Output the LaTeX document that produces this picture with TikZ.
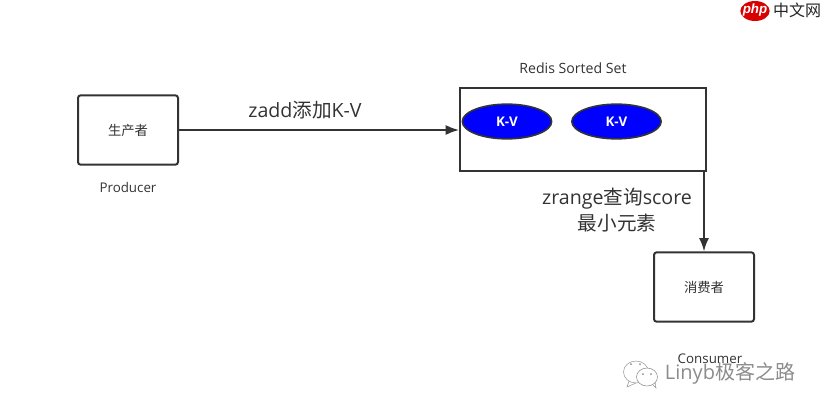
\documentclass[tikz,border=0pt]{standalone}
\usepackage{fontspec}
\usetikzlibrary{shapes.geometric,arrows.meta}
\setmainfont{Open Sans}
\newfontfamily\cjk{Noto Sans CJK SC}
\newfontfamily\arialf{Liberation Sans}
\definecolor{ink}{HTML}{333333}
\begin{document}
\begin{tikzpicture}[x=0.75pt,y=-0.75pt,
  box/.style={draw=ink,line width=1.5pt,rounded corners=2pt,minimum width=75pt,anchor=center,inner sep=0pt},
  setbox/.style={draw=ink,line width=1.3pt,inner sep=0pt},
  kv/.style={ellipse,draw=ink,line width=1.2pt,fill=blue,inner sep=0pt,minimum width=67pt,minimum height=26pt,text=white,font=\fontsize{10}{11}\selectfont\bfseries},
  small/.style={text=ink,font=\fontsize{10}{12}\selectfont,inner sep=0pt},
  big/.style={text=ink,font=\fontsize{14.7}{19}\selectfont,inner sep=0pt,align=center},
  conn/.style={draw=ink,line width=1.2pt,-{Latex[length=10pt,width=7.5pt]}}]
\useasboundingbox (0,0) rectangle (822,411);
\fill[white] (0,0) rectangle (822,411);

\node[box,minimum height=52pt] (prod) at (128,130) {\fontsize{10}{12}\selectfont\color{ink}\cjk 生产者};
\node[small] (prodl) at (128,187) {Producer};
\node[setbox,minimum width=184.5pt,minimum height=62pt] (set) at (583,129.5) {};
\node[small,font=\fontsize{10.6}{12}\selectfont] (setl) at (573,68) {Redis Sorted Set};
\node[kv] (kv1) at (507,121.5) {K-V};
\node[kv] (kv2) at (616.5,121.5) {K-V};
\node[box,minimum height=52pt] (cons) at (704,287) {\fontsize{10}{12}\selectfont\color{ink}\cjk 消费者};
\node[small] (consl) at (710,359) {Consumer};

\coordinate (setin) at (459,130);
\coordinate (setout) at (704,171);
\draw[conn] (prod.east |- setin) -- (setin);
\draw[conn] (setout) -- (cons.north);

\node[big] (l1) at (305,110) {zadd{\cjk 添加}K-V};
\node[big] (l2) at (617,210) {zrange{\cjk 查询}score\\[1pt]{\cjk 最小元素}};

% php logo
\node[ellipse,fill=red!85!black,minimum width=22pt,minimum height=15pt,inner sep=0pt] (php) at (755,11) {};
\node[text=white,inner sep=0pt,font=\arialf\fontsize{10}{10}\selectfont\bfseries\itshape] (phpt) at (755,10) {php};
\node[text=black!85,inner sep=0pt,font=\cjk\fontsize{12}{12}\selectfont] (phpc) at (797,10) {中文网};

% watermark
\node[text=black!45,inner sep=0pt,font=\fontsize{15}{18}\selectfont] (wm) at (730,373) {Linyb{\cjk\fontsize{15}{18}\selectfont 极客之路}};
\draw[black!40,line width=0.4pt,fill=white] (636,372) ellipse (12.5 and 11);
\draw[black!40,line width=0.4pt] (629,381) -- (627,387) -- (636,383);
\draw[black!45,line width=0.4pt,fill=white] (647,377) ellipse (10.5 and 9);
\draw[black!40,line width=0.4pt] (653,385) -- (656,388) -- (655,382);
\fill[black!45] (631,364) circle (1) (640,364) circle (1) (643,374) circle (1) (651,374) circle (1);
\end{tikzpicture}
\end{document}
